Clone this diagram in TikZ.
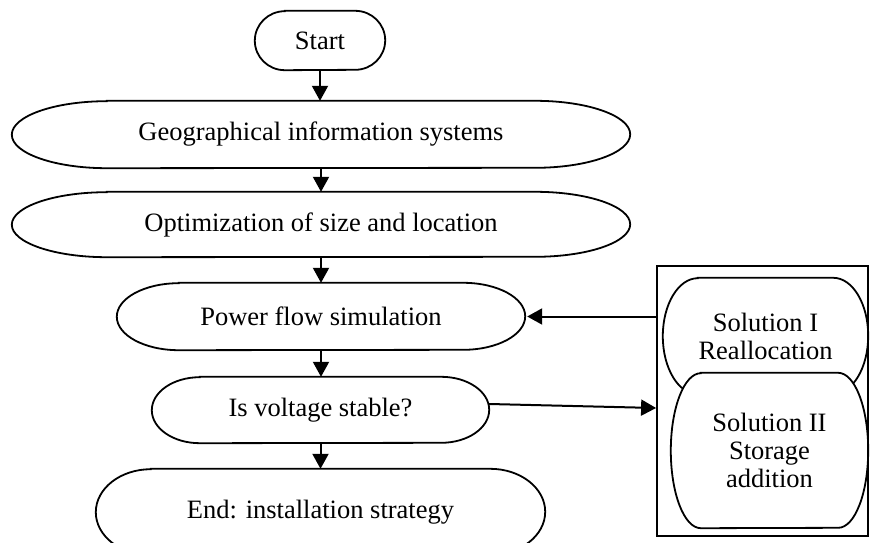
\documentclass[tikz,border=0pt]{standalone}
\usepackage{fontspec}
\setmainfont{Liberation Serif}
\usetikzlibrary{arrows.meta}
\pgfdeclarelayer{bgA}
\pgfdeclarelayer{bgB}
\pgfsetlayers{bgA,bgB,main}
\newcommand{\capsh}[4][]{%
  \draw[shp,#1] ([xshift=#3]#2.north west) -- ([xshift=-#3]#2.north east)
    arc[start angle=90,end angle=-90,x radius=#3,y radius=#4]
    -- ([xshift=#3]#2.south west)
    arc[start angle=270,end angle=90,x radius=#3,y radius=#4] -- cycle;}
\begin{document}
\begin{tikzpicture}[x=1pt,y=1pt,
  txt/.style={inner sep=0pt, align=center, font=\fontsize{26.5}{28}\selectfont},
  shp/.style={line width=1.8pt},
  arr/.style={line width=2pt,-{Triangle[length=15pt,width=16pt]}}]
\useasboundingbox (0,0) rectangle (870,542);

\node[txt, minimum width=130pt, minimum height=59pt] (start) at (320,501.5) {Start};
\capsh{start}{30pt}{29.5pt}

\node[txt, minimum width=618pt, minimum height=67pt] (geo) at (321,407.5) {Geographical information systems};
\capsh{geo}{95pt}{33.5pt}

\node[txt, minimum width=618pt, minimum height=65pt] (opt) at (321,317.5) {Optimization of size and location};
\capsh{opt}{95pt}{32.5pt}

\node[txt, minimum width=408pt, minimum height=67pt] (pf) at (321,225.5) {Power flow simulation};
\capsh{pf}{62pt}{33.5pt}

\node[txt, minimum width=337pt, minimum height=66pt] (iv) at (320.5,132) {Is voltage stable?};
\capsh{iv}{48pt}{33pt}

\node[txt, minimum width=449pt, minimum height=86pt] (end) at (320.5,30) {End: installation strategy};
\capsh{end}{55pt}{43pt}

\node[draw, line width=1.8pt, minimum width=211pt, minimum height=270pt, inner sep=0pt] (box) at (762.5,141) {};

\node[txt, minimum width=205pt, minimum height=116pt] (solI) at (765.5,206) {Solution I\\Reallocation};
\begin{pgfonlayer}{bgA}
\capsh{solI}{35pt}{58pt}
\end{pgfonlayer}

\node[txt, minimum width=197pt, minimum height=155pt] (solII) at (769.5,91.5) {Solution II\\Storage\\addition};
\begin{pgfonlayer}{bgB}
\capsh[fill=white]{solII}{30pt}{77.5pt}
\end{pgfonlayer}

\draw[arr] (start.south) -- (start.south |- geo.north);
\draw[arr] (geo.south) -- (geo.south |- opt.north);
\draw[arr] (opt.south) -- (opt.south |- pf.north);
\draw[arr] (pf.south) -- (pf.south |- iv.north);
\draw[arr] (iv.south) -- (iv.south |- end.north);
\draw[arr] (box.west |- pf.east) -- ([xshift=2pt]pf.east);
\draw[arr] ([yshift=6pt]iv.east) -- ([yshift=-7pt]box.west);
\end{tikzpicture}
\end{document}
